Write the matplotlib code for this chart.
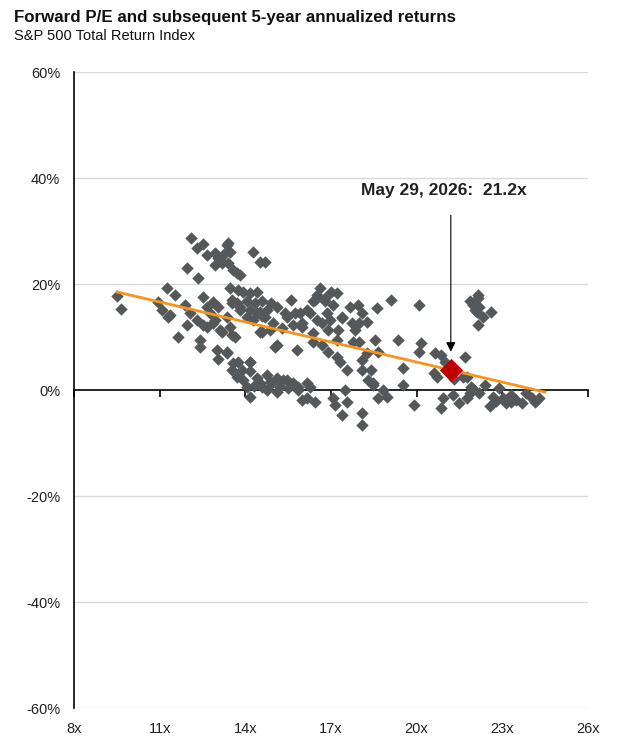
import numpy as np
import matplotlib
matplotlib.use("Agg")
import matplotlib.pyplot as plt

plt.rcParams['font.family'] = ['Liberation Sans', 'DejaVu Sans']

# forward P/E (x) and subsequent 5-yr annualized return in % (y)
pe = [
    # 9.5x - 13.6x, 8-20%
    9.5, 9.65, 10.95, 11.07, 11.3, 11.25, 11.54, 11.36, 11.64, 11.95, 11.9, 12.06, 12.3, 12.4, 12.4,
    12.5, 12.65, 12.76, 12.87, 13.04, 12.94, 12.65, 13.1, 13.35, 13.52, 13.64, 13.46, 12.88, 13.17, 12.53,
    # upper cluster 12-14.7x, 20-29%
    12.09, 12.3, 12.5, 12.65, 12.94, 13.1, 13.35, 13.4, 13.04, 12.94, 13.17, 13.46, 13.3, 13.57, 13.8,
    11.95, 12.35, 14.27, 14.5, 14.7, 13.7, 13.4,
    # 13.4x - 15.5x, 8-20%
    13.46, 13.75, 13.92, 14.16, 14.4, 13.52, 13.7, 14.05, 14.34, 14.6, 13.8, 14.16, 14.5, 14.27, 14.05,
    14.57, 14.7, 13.8, 14.4, 14.75, 15.1, 15.45, 15.67, 16.0, 14.5, 15.1, 15.8, 15.3, 14.86, 14.97,
    15.04, 14.9, 14.6,
    # lower band 13x - 16.5x
    13.0, 13.35, 13.05, 13.52, 13.57, 13.75, 14.16, 13.52, 13.7, 13.92, 14.16, 14.4, 14.5, 14.75, 14.86,
    15.1, 15.2, 15.45, 15.67, 15.85, 16.15, 14.16, 14.75, 15.1, 16.15, 14.06, 14.6, 14.92, 15.32, 15.84,
    16.0, 16.26, 16.44, 13.9, 14.3, 15.5, 13.35, 14.16,
    # 15.4x - 18.7x, 5-20%
    15.6, 15.4, 15.74, 16.0, 16.6, 16.44, 16.8, 17.2, 17.07, 16.26, 16.5, 16.85, 16.37, 16.9, 17.25,
    17.2, 16.9, 17.2, 17.3, 17.4, 17.65, 17.94, 17.72, 17.84, 17.77, 18.0, 18.1, 18.25, 18.0, 18.25,
    18.6, 18.65, 16.37, 16.7, 16.5, 17.0, 16.37, 16.15, 15.9, 16.7, 16.96, 17.37, 16.8,
    # lower band 17x - 19x
    18.1, 18.3, 18.47, 18.65, 17.07, 17.14, 17.5, 17.55, 17.37, 18.1, 18.1, 18.1, 18.4, 17.55, 18.82,
    18.95, 18.47,
    # 18.5x - 22x
    19.12, 20.1, 18.54, 19.35, 20.17, 20.1, 20.64, 20.87, 21.0, 21.7, 19.53, 20.7, 21.75, 19.53, 19.9,
    20.92, 20.87, 21.27, 21.5, 21.86, 21.92, 20.6, 21.3,
    # 22x - 24.3x
    21.97, 22.1, 22.15, 22.16, 21.87, 22.2, 22.6, 22.04, 22.33, 22.16, 21.62, 21.93, 21.75, 22.2, 22.56,
    22.9, 23.02, 23.32, 23.5, 23.84, 24.03, 24.3, 22.67, 23.15, 23.68, 24.15, 22.4, 23.3, 22.8,
]
ret = [
    17.7, 15.3, 16.6, 15.1, 13.8, 19.2, 17.9, 14.1, 10.0, 12.3, 16.0, 14.5, 13.2, 9.4, 8.2,
    17.5, 15.7, 14.5, 16.6, 15.7, 13.2, 11.9, 11.3, 13.8, 16.4, 10.0, 11.9, 12.6, 11.0, 12.2,
    28.6, 26.8, 27.5, 25.5, 25.8, 24.5, 27.4, 24.0, 24.9, 23.6, 24.0, 26.1, 25.8, 22.6, 21.7,
    23.0, 21.1, 26.1, 24.2, 24.2, 22.0, 27.7,
    19.2, 18.9, 18.5, 18.3, 18.5, 17.0, 16.4, 16.7, 16.4, 16.7, 15.1, 15.1, 14.8, 13.2, 13.8,
    11.0, 13.8, 15.7, 14.5, 15.1, 15.7, 13.8, 12.3, 12.6, 11.0, 8.5, 7.5, 11.7, 11.3, 12.6,
    8.2, 16.5, 14.0,
    7.5, 7.2, 5.8, 10.4, 5.1, 5.3, 5.3, 3.8, 2.5, 1.9, 3.5, 2.3, 1.3, 2.8, 1.6,
    2.3, 0.6, 1.9, 1.3, 0.0, 1.3, -1.3, 0.0, -0.3, -1.5, 0.6, 0.5, 1.3, 1.9, 0.6,
    -1.9, 0.6, -2.2, 3.8, 0.8, 0.3, 7.0, 5.2,
    17.0, 14.5, 14.5, 11.9, 19.2, 17.0, 16.7, 18.3, 16.0, 14.5, 13.2, 14.5, 10.8, 11.3, 11.3,
    9.4, 7.2, 6.3, 5.3, 13.6, 15.7, 16.0, 12.6, 11.3, 9.1, 9.1, 14.5, 12.9, 12.6, 7.0,
    15.5, 7.2, 9.1, 8.5, 17.9, 18.5, 16.7, 15.1, 14.5, 12.6, 13.2, 13.8, 17.4,
    3.8, 1.9, 0.9, -1.5, -1.5, -2.8, 0.0, -2.2, -4.7, -4.4, -6.6, 5.7, 3.8, 3.8, 0.0,
    -1.3, 1.3,
    17.0, 16.0, 9.4, 9.4, 8.9, 7.2, 7.0, 6.6, 5.3, 6.2, 4.2, 2.5, 2.5, 0.9, -2.8,
    -1.5, -3.4, -0.9, -2.5, -0.6, 0.6, 3.3, 2.0,
    16.0, 14.8, 17.4, 17.9, 16.7, 15.7, 14.8, 15.1, 13.8, 12.3, 2.5, 0.4, -1.5, -0.6, -3.1,
    0.4, -1.5, -0.9, -1.9, -0.6, -1.5, -1.5, -1.3, -2.5, -2.5, -2.2, 1.0, -2.2, -2.0,
]

current_pe = 21.2
current_ret = 3.7
trend_x = [9.5, 24.5]
trend_y = [18.5, -0.4]

x_ticks = [8, 11, 14, 17, 20, 23, 26]
y_ticks = [-60, -40, -20, 0, 20, 40, 60]

fig = plt.figure(figsize=(6.28, 7.5), dpi=100)
ax = fig.add_axes([0.118, 0.056, 0.818, 0.848])

ax.scatter(pe, ret, marker="D", s=40, color="#54585a", linewidths=0, zorder=3)
ax.plot(trend_x, trend_y, color="#f7941d", lw=2, zorder=4)
ax.scatter([current_pe], [current_ret], marker="D", s=140, color="#c00000", linewidths=0, zorder=5)

# annotation
ax.annotate("", xy=(current_pe, current_ret + 3.0), xytext=(current_pe, 33.5),
            arrowprops=dict(arrowstyle="-|>", color="black", lw=0.8, mutation_scale=14), zorder=6)
ax.text(current_pe - 0.25, 37.6, "May 29, 2026:  21.2x", ha="center", va="center",
        fontsize=12.5, fontweight="bold", color="#222222")

ax.set_xlim(8, 26)
ax.set_ylim(-60, 60)
ax.set_yticks(y_ticks)
ax.set_yticklabels([f"{v}%" for v in y_ticks])
ax.set_xticks(x_ticks)
ax.tick_params(axis="y", length=0, pad=10, labelsize=10.5, labelcolor="#222222")
ax.tick_params(axis="x", direction="out", length=5, width=1.2, labelbottom=False)

for v in y_ticks:
    if v != 0:
        ax.axhline(v, color="#d9d9d9", lw=1, zorder=1)

for s in ["top", "right"]:
    ax.spines[s].set_visible(False)
ax.spines["bottom"].set_position(("data", 0))
ax.spines["bottom"].set_linewidth(1.2)
ax.spines["left"].set_linewidth(1.2)

# tick labels at the bottom of the plot
sec = ax.secondary_xaxis(0.0)
sec.set_xticks(x_ticks)
sec.set_xticklabels([f"{v}x" for v in x_ticks])
sec.tick_params(length=0, pad=10, labelsize=10.5, labelcolor="#222222")
sec.spines["bottom"].set_visible(False)

fig.text(0.022, 0.987, "Forward P/E and subsequent 5-year annualized returns",
         fontsize=12.2, fontweight="bold", va="top", color="#111111")
fig.text(0.022, 0.962, "S&P 500 Total Return Index", fontsize=10.5, va="top", color="#111111")

plt.savefig("out.png", dpi=100)
